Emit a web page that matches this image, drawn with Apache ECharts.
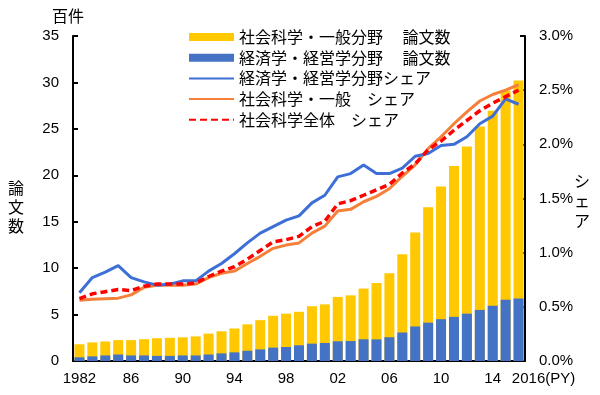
<!DOCTYPE html>
<html>
<head>
<meta charset="utf-8">
<script src="https://cdn.jsdelivr.net/npm/echarts@6/dist/echarts.min.js"></script>
<style>
html,body{margin:0;padding:0;background:#fff;}
#c{width:600px;height:395px;}
</style>
</head>
<body>
<div id="c"></div>
<script>
const years = ['1982','1983','1984','1985','1986','1987','1988','1989','1990','1991','1992','1993','1994','1995','1996','1997','1998','1999','2000','2001','2002','2003','2004','2005','2006','2007','2008','2009','2010','2011','2012','2013','2014','2015','2016'];
const yearLabels = ['1982','83','84','85','86','87','88','89','90','91','92','93','94','95','96','97','98','99','00','01','02','03','04','05','06','07','08','09','10','11','12','13','14','15','2016(PY)'];
// 論文数 (百件)
const socialPapers = [1.8,2.0,2.1,2.25,2.25,2.35,2.45,2.5,2.55,2.65,2.95,3.2,3.5,3.95,4.4,4.87,5.1,5.3,5.9,6.1,6.9,7.07,7.8,8.4,9.45,11.5,13.85,16.55,18.8,21.0,23.1,25.25,26.95,29.1,30.2];
const econPapers = [0.4,0.5,0.6,0.7,0.6,0.6,0.55,0.55,0.6,0.6,0.7,0.82,0.93,1.1,1.25,1.44,1.51,1.69,1.87,1.94,2.12,2.15,2.34,2.33,2.56,3.07,3.72,4.13,4.5,4.75,5.1,5.5,5.95,6.6,6.73];
// シェア (%)
const econShare = [0.63,0.77,0.82,0.88,0.77,0.73,0.70,0.71,0.74,0.74,0.83,0.90,0.99,1.09,1.18,1.24,1.30,1.34,1.46,1.53,1.70,1.73,1.81,1.73,1.73,1.78,1.89,1.915,1.99,2.00,2.07,2.19,2.26,2.42,2.37];
const socialShare = [0.56,0.57,0.575,0.58,0.61,0.68,0.70,0.70,0.70,0.71,0.77,0.81,0.83,0.90,0.966,1.04,1.07,1.09,1.18,1.245,1.385,1.40,1.47,1.52,1.59,1.705,1.81,1.96,2.07,2.19,2.30,2.40,2.46,2.50,2.55];
const totalShare = [0.575,0.62,0.64,0.66,0.65,0.69,0.71,0.71,0.71,0.72,0.78,0.83,0.87,0.94,1.02,1.10,1.12,1.15,1.24,1.29,1.45,1.48,1.53,1.58,1.63,1.735,1.82,1.95,2.03,2.13,2.22,2.31,2.38,2.44,2.50];
const seriesNames = ['社会科学・一般分野　 論文数','経済学・経営学分野　 論文数','経済学・経営学分野シェア','社会科学・一般　シェア','社会科学全体　シェア'];

const NUM = 'Liberation Sans, Arial, sans-serif';
const JP = 'Noto Sans CJK JP, sans-serif';
const hideSym = {opacity:0, borderWidth:0};
const chart = echarts.init(document.getElementById('c'), null, {renderer:'canvas'});
chart.setOption({
  animation:false,
  backgroundColor:'#fff',
  grid:{left:73,right:75,top:36,bottom:34,containLabel:false},
  legend:{
    orient:'vertical', left:183, top:24, itemWidth:45, itemHeight:8, itemGap:4.7,
    textStyle:{fontFamily:JP,fontSize:16,color:'#000'},
    data:[
      {name:seriesNames[0],icon:'rect'},
      {name:seriesNames[1],icon:'rect'},
      {name:seriesNames[2],itemStyle:hideSym},
      {name:seriesNames[3],itemStyle:hideSym},
      {name:seriesNames[4],itemStyle:hideSym}
    ]
  },
  xAxis:{
    type:'category', data:years,
    axisLine:{lineStyle:{color:'#000',width:2}},
    axisTick:{show:false},
    axisLabel:{
      interval:0, margin:10, color:'#000', fontFamily:NUM, fontSize:15,
      formatter:function(v,i){
        if(i===years.length-1) return '{p|'+yearLabels[i]+'}';
        return (i%4===0)? yearLabels[i] : '';
      },
      rich:{p:{fontFamily:NUM,fontSize:15,color:'#000',padding:[0,0,0,50]}}
    }
  },
  yAxis:[
    {type:'value',min:0,max:35,interval:5,
     name:'百件', nameLocation:'end', nameGap:12,
     nameTextStyle:{fontFamily:JP,fontSize:16,color:'#000',padding:[0,10,0,0]},
     axisLine:{show:true,lineStyle:{color:'#000',width:2}},
     axisTick:{show:true,inside:true,length:5,lineStyle:{color:'#000',width:2}},
     axisLabel:{margin:14,color:'#000',fontFamily:NUM,fontSize:15},
     splitLine:{show:false}},
    {type:'value',min:0,max:3,interval:0.5,
     axisLine:{show:true,lineStyle:{color:'#000',width:2}},
     axisTick:{show:true,inside:true,length:5,lineStyle:{color:'#000',width:2}},
     axisLabel:{margin:14,color:'#000',fontFamily:NUM,fontSize:15,formatter:function(v){return v.toFixed(1)+'%';}},
     splitLine:{show:false}}
  ],
  graphic:[
    {type:'text',left:8,top:178,style:{text:'論\n文\n数',font:'16px "Noto Sans CJK JP"',lineHeight:19,fill:'#000'}},
    {type:'text',left:574,top:171,style:{text:'シ\nェ\nア',font:'16px "Noto Sans CJK JP"',lineHeight:20,fill:'#000'}}
  ],
  series:[
    {name:seriesNames[0],type:'bar',data:socialPapers,barWidth:10,barGap:'-100%',itemStyle:{color:'#FFC800'},z:1},
    {name:seriesNames[1],type:'bar',data:econPapers,barWidth:10,barGap:'-100%',itemStyle:{color:'#4472C4'},z:2},
    {name:seriesNames[2],type:'line',yAxisIndex:1,data:econShare,symbol:'none',lineStyle:{color:'#3D6FD6',width:3},itemStyle:{color:'#3D6FD6'},z:5},
    {name:seriesNames[3],type:'line',yAxisIndex:1,data:socialShare,symbol:'none',lineStyle:{color:'#F5803A',width:3},itemStyle:{color:'#F5803A'},z:4},
    {name:seriesNames[4],type:'line',yAxisIndex:1,data:totalShare,symbol:'none',lineStyle:{color:'#FF0000',width:3.5,type:[7,4]},itemStyle:{color:'#FF0000'},z:6}
  ]
});
</script>
</body>
</html>
